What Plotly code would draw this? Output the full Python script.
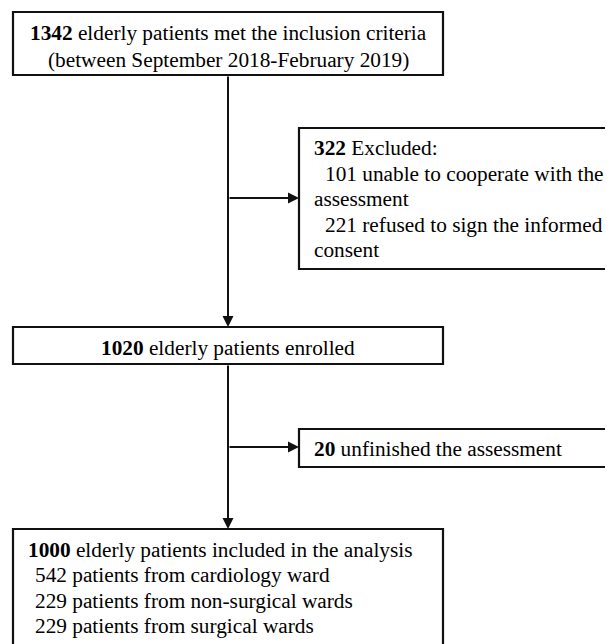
import plotly.graph_objects as go

# ---- data (counts shown in the flow diagram) ----
screened_n = 1342
screen_period = "(between September 2018-February 2019)"
excluded_n = 322
excluded_reasons_n = [101, 221]
excluded_reasons = [["unable to cooperate with the", "assessment"],
                    ["refused to sign the informed", "consent"]]
enrolled_n = 1020
unfinished_n = 20
analysed_n = 1000
ward_n = [542, 229, 229]
ward_labels = ["patients from cardiology ward",
               "patients from non-surgical wards",
               "patients from surgical wards"]

W, H = 613, 644
OFF = 8  # page body margin
FONT = "Times New Roman, Liberation Serif, DejaVu Serif, serif"
FS = 21.3
LC = "#111111"

fig = go.Figure()
fig.add_trace(go.Scatter(x=[OFF, W], y=[OFF, H], mode="markers",
                         marker=dict(opacity=0), hoverinfo="skip", showlegend=False))

shapes = []
def box(x0, y0, x1, y1):
    shapes.append(dict(type="rect", x0=x0, y0=y0, x1=x1, y1=y1,
                       line=dict(color=LC, width=2.2), fillcolor="white",
                       xref="x", yref="y", layer="above"))

def open_right(x0, y0, x1, y1):
    shapes.append(dict(type="path", path=f"M{x1},{y0} L{x0},{y0} L{x0},{y1} L{x1},{y1}",
                       line=dict(color=LC, width=2.2), xref="x", yref="y", layer="above"))

def open_bottom(x0, y0, x1, y1):
    shapes.append(dict(type="path", path=f"M{x0},{y1} L{x0},{y0} L{x1},{y0} L{x1},{y1}",
                       line=dict(color=LC, width=2.2), xref="x", yref="y", layer="above"))

box(13, 12, 443, 75)
open_right(299, 128, W + 30, 269)
box(13, 327, 443, 364)
open_right(299, 429, W + 30, 467)
open_bottom(13, 529, 443, H + 30)

annotations = []
def txt(x, baseline, s, anchor="left"):
    annotations.append(dict(x=x, y=baseline - 0.24 * FS, text=s, showarrow=False,
                            xanchor=anchor, yanchor="middle", xref="x", yref="y",
                            font=dict(family=FONT, size=FS, color="black")))

def arrow(x0, y0, x1, y1):
    annotations.append(dict(x=x1, y=y1, ax=x0, ay=y0, xref="x", yref="y",
                            axref="x", ayref="y", text="", showarrow=True,
                            arrowhead=2, arrowsize=1.1, arrowwidth=2,
                            arrowcolor=LC, standoff=0, startstandoff=0))

CX = 228
arrow(CX, 75, CX, 327)
arrow(CX, 364, CX, 529)
arrow(CX, 198, 299, 198)
arrow(CX, 447, 299, 447)

# box 1
txt(CX, 38, f"<b>{screened_n}</b> elderly patients met the inclusion criteria", "center")
txt(CX, 65, screen_period, "center")
# box 2
txt(312, 153, f"<b>{excluded_n}</b> Excluded:")
b = 179
for n, lines in zip(excluded_reasons_n, excluded_reasons):
    txt(323, b, f"{n} {lines[0]}")
    txt(312, b + 25.5, lines[1])
    b += 51
# box 3
txt(CX, 353, f"<b>{enrolled_n}</b> elderly patients enrolled", "center")
# box 4
txt(312, 454, f"<b>{unfinished_n}</b> unfinished the assessment")
# box 5
txt(26, 555, f"<b>{analysed_n}</b> elderly patients included in the analysis")
b = 580.5
for n, lab in zip(ward_n, ward_labels):
    txt(33, b, f"{n} {lab}")
    b += 25.3

fig.update_layout(
    width=W - OFF, height=H - OFF, margin=dict(l=0, r=0, t=0, b=0),
    paper_bgcolor="white", plot_bgcolor="white",
    xaxis=dict(range=[OFF, W], visible=False, fixedrange=True),
    yaxis=dict(range=[H, OFF], visible=False, fixedrange=True),
    shapes=shapes, annotations=annotations, showlegend=False,
)
fig.write_html("out.html",
               post_script="document.documentElement.style.overflow='hidden';"
                           "document.body.style.overflow='hidden';")
